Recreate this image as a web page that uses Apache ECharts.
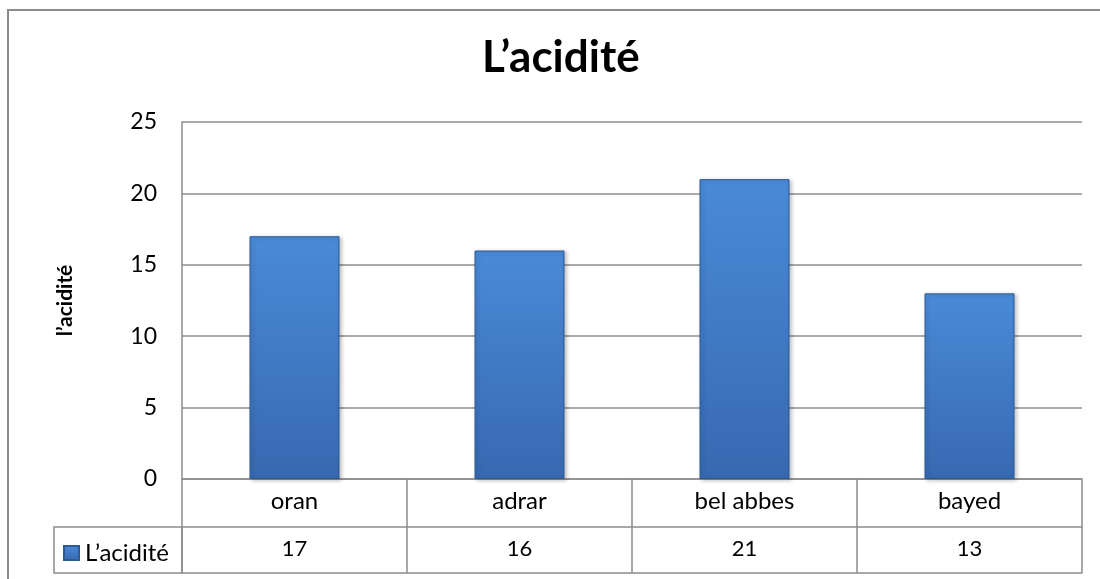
<!DOCTYPE html>
<html>
<head>
<meta charset="utf-8">
<script src="https://cdn.jsdelivr.net/npm/echarts@6/dist/echarts.min.js"></script>
<style>
  html, body { margin: 0; padding: 0; background: #fff; }
  #main { width: 1100px; height: 579px; }
</style>
</head>
<body>
<div id="main"></div>
<script>
// données
var categories = ['oran', 'adrar', 'bel abbes', 'bayed'];
var acidite = [17, 16, 21, 13];
var seriesName = 'L\u2019acidité';

var lineGray = '#8c8c8c';
var font = 'Lato, "Open Sans", sans-serif';

var barColor = new echarts.graphic.LinearGradient(0, 0, 0, 1, [
  { offset: 0, color: '#4a8ad8' },
  { offset: 1, color: '#3769b0' }
]);

var option = {
  backgroundColor: '#fff',
  animation: false,
  title: {
    text: 'L\u2019acidité',
    left: 477,
    top: 31,
    textStyle: { fontFamily: font, fontSize: 44, fontWeight: 'bold', color: '#000' }
  },
  legend: {
    data: [seriesName],
    left: 58,
    top: 536,
    itemWidth: 15,
    itemHeight: 14,
    icon: 'rect',
    textStyle: { fontFamily: font, fontSize: 24, color: '#000', padding: [0, 0, 0, 1] }
  },
  grid: { left: 182, right: 18, top: 122, bottom: 100 },
  xAxis: [
    {
      type: 'category',
      data: categories,
      axisLine: { show: true, lineStyle: { color: lineGray, width: 1.5 } },
      axisTick: { show: true, length: 94, interval: 0, lineStyle: { color: lineGray, width: 1.5 } },
      axisLabel: { fontFamily: font, fontSize: 24, color: '#000', margin: 10, interval: 0 }
    },
    {
      type: 'category',
      data: categories,
      position: 'bottom',
      offset: 48,
      axisLine: { show: true, lineStyle: { color: lineGray, width: 1.5 } },
      axisTick: { show: false },
      axisLabel: {
        fontFamily: font, fontSize: 22, color: '#000', margin: 11, interval: 0,
        formatter: function (v, i) { return String(acidite[i]); }
      }
    },
    {
      type: 'category',
      data: categories,
      position: 'bottom',
      offset: 94,
      axisLine: { show: true, lineStyle: { color: lineGray, width: 1.5 } },
      axisTick: { show: false },
      axisLabel: { show: false }
    }
  ],
  yAxis: {
    type: 'value',
    min: 0,
    max: 25,
    interval: 5,
    name: 'l\u2019acidité',
    nameLocation: 'middle',
    nameRotate: 90,
    nameGap: 106,
    nameTextStyle: { fontFamily: font, fontSize: 21, fontWeight: 'bold', color: '#000' },
    axisLine: { show: true, lineStyle: { color: lineGray, width: 1.5 } },
    axisTick: { show: false },
    axisLabel: { fontFamily: font, fontSize: 23, color: '#000', margin: 25 },
    splitLine: { show: true, lineStyle: { color: lineGray, width: 1.5 } }
  },
  series: [
    {
      name: seriesName,
      type: 'bar',
      barWidth: '40%',
      data: acidite,
      itemStyle: {
        color: barColor,
        borderColor: '#2d5a94',
        borderWidth: 1,
        shadowColor: 'rgba(0,0,0,0.25)',
        shadowBlur: 4,
        shadowOffsetX: 2,
        shadowOffsetY: 1
      }
    }
  ],
  graphic: [
    // bordure extérieure du graphique
    {
      type: 'rect',
      shape: { x: 8, y: 10, width: 1100, height: 600 },
      style: { fill: 'none', stroke: '#8c8c8c', lineWidth: 2 },
      silent: true
    },
    // cellule de la légende du tableau de données
    {
      type: 'rect',
      shape: { x: 54, y: 527, width: 128, height: 46 },
      style: { fill: 'none', stroke: lineGray, lineWidth: 1.5 },
      silent: true
    }
  ]
};

var myChart = echarts.init(document.getElementById('main'));
myChart.setOption(option);
</script>
</body>
</html>
